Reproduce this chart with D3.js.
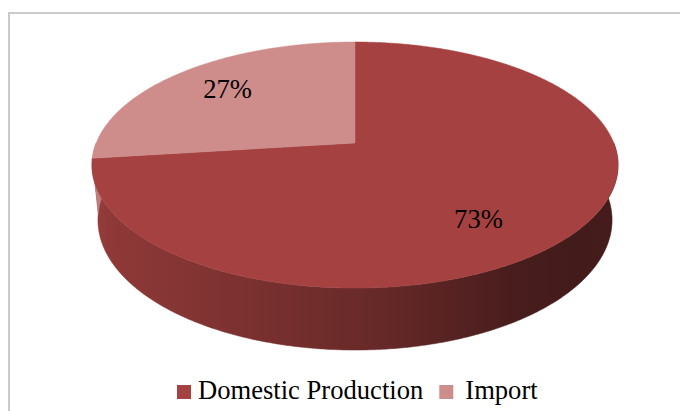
<!DOCTYPE html>
<html>
<head>
<meta charset="utf-8">
<script src="https://cdn.jsdelivr.net/npm/d3@7"></script>
<style>
  body { margin: 0; background: #fff; }
  svg { display: block; }
</style>
</head>
<body>
<svg id="chart"></svg>
<script>
let categories = ["Domestic Production", "Import"]
let shares = [73, 27]
let labels = ["73%", "27%"]
let colors = ["#a54241", "#ce8c8b"]

let width = 680, height = 411
let svg = d3.select('#chart')
    .attr('width', width)
    .attr('height', height)

// chart frame, it runs off the right and bottom edges
svg.append('rect')
    .attr('x', 9).attr('y', 13)
    .attr('width', 720).attr('height', 440)
    .attr('fill', 'none')
    .attr('stroke', '#cacaca')
    .attr('stroke-width', 2)

// 3d pie camera
let cx = 355, cy = 143
let scaleR = 258.8          // screen size of the radius
let tilt = 27.4 * Math.PI / 180
let persp = 0.2016          // radius / camera distance
let thick = 0.2417          // pie height / radius

function project(a, r, h) {
    let x = r * Math.sin(a), z = r * Math.cos(a)
    let d = 1 + persp * (z * Math.cos(tilt) - h * Math.sin(tilt))
    return [cx + scaleR * x / d, cy - scaleR * (h * Math.cos(tilt) + z * Math.sin(tilt)) / d]
}

function rim(a0, a1, h) {
    let n = Math.max(2, Math.ceil(Math.abs(a1 - a0) / (Math.PI / 360)))
    let pts = []
    for (let i = 0; i <= n; i++) {
        pts.push(project(a0 + (a1 - a0) * i / n, 1, h))
    }
    return pts
}

let arcs = d3.pie().sort(null).value(function(d){ return d })(shares)
let line = d3.line()

let defs = svg.append('defs')
arcs.forEach(function(d, i){
    let base = d3.color(colors[i])
    let g = defs.append('linearGradient')
        .attr('id', 'side' + i)
        .attr('gradientUnits', 'userSpaceOnUse')
        .attr('x1', cx - scaleR * 1.02).attr('x2', cx + scaleR * 1.02)
        .attr('y1', 0).attr('y2', 0)
    let stops = [[0, 0.15], [0.03, 0.4], [0.3, 0.85], [0.55, 1.35], [0.8, 2.3], [0.92, 2.55], [1, 2.45]]
    stops.forEach(function(s){
        g.append('stop').attr('offset', s[0]).attr('stop-color', base.darker(s[1]).formatHex())
    })
})

// side wall, only the front half can be seen
let sides = svg.append('g')
arcs.forEach(function(d, i){
    let a0 = Math.max(d.startAngle, Math.PI / 2)
    let a1 = Math.min(d.endAngle, Math.PI * 3 / 2)
    if (a0 >= a1) return
    let pts = rim(a0, a1, 0).concat(rim(a1, a0, -thick))
    sides.append('path')
        .attr('d', line(pts) + 'Z')
        .attr('fill', 'url(#side' + i + ')')
        .attr('stroke', 'url(#side' + i + ')')
        .attr('stroke-width', 0.5)
})

// top face
let tops = svg.append('g')
arcs.forEach(function(d, i){
    let pts = [project(0, 0, 0)].concat(rim(d.startAngle, d.endAngle, 0))
    tops.append('path')
        .attr('d', line(pts) + 'Z')
        .attr('fill', colors[i])
        .attr('stroke', colors[i])
        .attr('stroke-width', 0.5)
})

// data labels, where the chart put them (degrees, radius)
let labelSpots = [[143.2, 0.715], [312.7, 0.729]]
svg.append('g').selectAll('text')
    .data(arcs)
    .enter()
    .append('text')
    .attr('x', function(d, i){ return project(labelSpots[i][0] * Math.PI / 180, labelSpots[i][1], 0)[0] })
    .attr('y', function(d, i){ return project(labelSpots[i][0] * Math.PI / 180, labelSpots[i][1], 0)[1] + 9 })
    .attr('text-anchor', 'middle')
    .attr('font-family', '"Liberation Serif", "Times New Roman", serif')
    .attr('font-size', 26.6)
    .attr('fill', '#000')
    .text(function(d, i){ return labels[i] })

// legend
let legend = svg.append('g')
let lx = 177
categories.forEach(function(c, i){
    legend.append('rect')
        .attr('x', lx).attr('y', 385)
        .attr('width', 14).attr('height', 14)
        .attr('fill', colors[i])
    lx += 14 + (i == 0 ? 7 : 12)
    let t = legend.append('text')
        .attr('x', lx).attr('y', 399)
        .attr('font-family', '"Liberation Serif", "Times New Roman", serif')
        .attr('font-size', 26.6)
        .attr('fill', '#000')
        .text(c)
    lx += t.node().getComputedTextLength() + 16
})
</script>
</body>
</html>
